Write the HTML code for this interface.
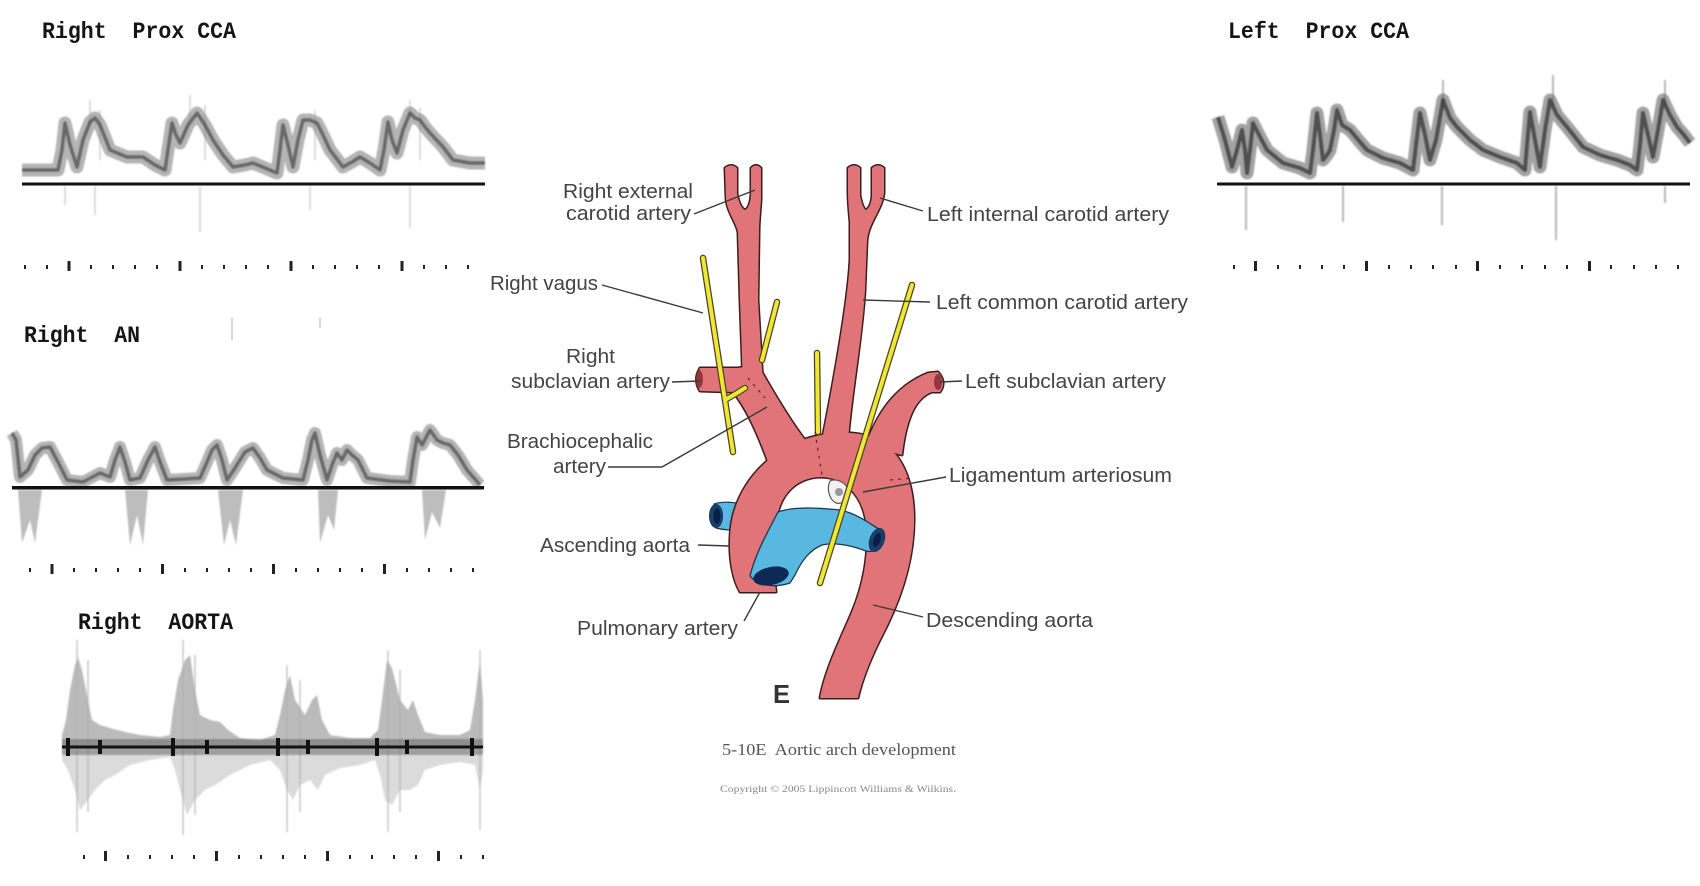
<!DOCTYPE html>
<html><head><meta charset="utf-8"><style>
html,body{margin:0;padding:0;background:#fff;}
svg{display:block;}
text{white-space:pre;}
.mono{font-family:"Liberation Mono",monospace;font-weight:bold;fill:#151515;}
.lab{font-family:"Liberation Sans",Arial,sans-serif;fill:#444;font-size:20px;}
.ld{stroke:#3a3a3a;stroke-width:1.4;fill:none;}
</style></head><body>
<svg width="1700" height="886" viewBox="0 0 1700 886" xmlns="http://www.w3.org/2000/svg" xml:space="preserve">
<defs>
<filter id="bl" x="-5%" y="-20%" width="110%" height="140%"><feGaussianBlur stdDeviation="0.9"/></filter>
</defs>
<rect width="1700" height="886" fill="#fff"/>

<!-- ===== Panel 1: Right Prox CCA ===== -->
<text class="mono" x="42" y="38" font-size="23" textLength="194" lengthAdjust="spacingAndGlyphs" xml:space="preserve">Right  Prox CCA</text>
<g filter="url(#bl)">
<g stroke="#bbb" stroke-width="1.2" opacity="0.8">
<line x1="65" y1="186" x2="65" y2="205"/><line x1="95" y1="186" x2="95" y2="215"/><line x1="200" y1="186" x2="200" y2="232"/><line x1="310" y1="186" x2="310" y2="210"/><line x1="410" y1="186" x2="410" y2="228"/>
<line x1="90" y1="100" x2="90" y2="125"/><line x1="190" y1="95" x2="190" y2="120"/><line x1="410" y1="100" x2="410" y2="115"/>
<line x1="100" y1="110" x2="100" y2="160"/><line x1="205" y1="105" x2="205" y2="160"/><line x1="315" y1="110" x2="315" y2="160"/><line x1="420" y1="108" x2="420" y2="160"/>
</g>
<polyline fill="none" stroke="#777" stroke-width="13" stroke-linejoin="round" opacity="0.55" points="22,170 40,170 58,170 62,150 65,123 70,145 77,167 83,140 90,122 95,118 100,125 110,150 127,157 143,157 155,165 165,170 168,150 172,123 176,135 180,143 188,125 197,113 205,125 213,140 223,155 233,167 245,165 253,163 265,168 277,173 280,150 283,125 288,145 293,167 298,140 303,120 310,120 317,123 323,135 330,150 343,167 352,162 360,157 370,163 380,170 384,150 388,122 392,140 397,153 403,130 410,113 415,118 420,120 425,127 430,133 443,147 453,160 470,163 485,163"/>
<polyline fill="none" stroke="#333" stroke-width="3.5" stroke-linejoin="round" opacity="0.6" points="22,170 40,170 58,170 62,150 65,123 70,145 77,167 83,140 90,122 95,118 100,125 110,150 127,157 143,157 155,165 165,170 168,150 172,123 176,135 180,143 188,125 197,113 205,125 213,140 223,155 233,167 245,165 253,163 265,168 277,173 280,150 283,125 288,145 293,167 298,140 303,120 310,120 317,123 323,135 330,150 343,167 352,162 360,157 370,163 380,170 384,150 388,122 392,140 397,153 403,130 410,113 415,118 420,120 425,127 430,133 443,147 453,160 470,163 485,163"/>
</g>
<rect x="22" y="182.5" width="463" height="3" fill="#111"/>
<g fill="#222">
<rect x="24" y="265" width="2" height="4"/><rect x="46" y="265" width="2" height="4"/><rect x="67.5" y="261" width="3" height="10"/><rect x="90" y="265" width="2" height="4"/><rect x="112" y="265" width="2" height="4"/><rect x="134" y="265" width="2" height="4"/><rect x="156" y="265" width="2" height="4"/><rect x="178.5" y="261" width="3" height="10"/><rect x="201" y="265" width="2" height="4"/><rect x="223" y="265" width="2" height="4"/><rect x="245" y="265" width="2" height="4"/><rect x="267" y="265" width="2" height="4"/><rect x="289.5" y="261" width="3" height="10"/><rect x="312" y="265" width="2" height="4"/><rect x="334" y="265" width="2" height="4"/><rect x="356" y="265" width="2" height="4"/><rect x="378" y="265" width="2" height="4"/><rect x="400.5" y="261" width="3" height="10"/><rect x="423" y="265" width="2" height="4"/><rect x="445" y="265" width="2" height="4"/><rect x="467" y="265" width="2" height="4"/>
</g>

<!-- ===== Panel 2: Right AN ===== -->
<text class="mono" x="24" y="342" font-size="23" textLength="116" lengthAdjust="spacingAndGlyphs" xml:space="preserve">Right  AN</text>
<g stroke="#ccc" stroke-width="1.5"><line x1="232" y1="318" x2="232" y2="340"/><line x1="320" y1="318" x2="320" y2="328"/></g>
<g filter="url(#bl)">
<g fill="#888" opacity="0.55">
<polygon points="18,490 22,543 30,520 35,543 42,490"/>
<polygon points="125,490 130,545 137,515 143,545 148,490"/>
<polygon points="218,490 224,545 230,520 236,545 243,490"/>
<polygon points="318,490 320,543 328,515 334,530 338,490"/>
<polygon points="422,490 425,540 432,512 440,528 446,490"/>
</g>
<polyline fill="none" stroke="#777" stroke-width="12" stroke-linejoin="round" opacity="0.55" points="12,433 16,440 20,477 28,470 35,455 42,448 50,447 58,462 67,480 83,482 100,473 110,477 115,460 120,447 125,462 130,480 140,478 148,460 155,447 160,462 167,480 185,479 200,478 207,462 212,450 217,445 222,460 227,480 235,468 245,452 253,448 260,458 267,470 283,478 303,480 308,460 312,440 315,433 320,455 327,480 332,465 337,453 342,460 347,450 352,455 358,460 367,478 390,481 410,482 413,460 417,437 422,445 430,430 437,440 443,443 450,445 458,455 467,470 480,485"/>
<polyline fill="none" stroke="#333" stroke-width="3.5" stroke-linejoin="round" opacity="0.6" points="12,433 16,440 20,477 28,470 35,455 42,448 50,447 58,462 67,480 83,482 100,473 110,477 115,460 120,447 125,462 130,480 140,478 148,460 155,447 160,462 167,480 185,479 200,478 207,462 212,450 217,445 222,460 227,480 235,468 245,452 253,448 260,458 267,470 283,478 303,480 308,460 312,440 315,433 320,455 327,480 332,465 337,453 342,460 347,450 352,455 358,460 367,478 390,481 410,482 413,460 417,437 422,445 430,430 437,440 443,443 450,445 458,455 467,470 480,485"/>
</g>
<rect x="12" y="486" width="472" height="3.5" fill="#111"/>
<g fill="#222">
<rect x="29" y="568" width="2" height="4"/><rect x="50.5" y="564" width="3" height="10"/><rect x="73" y="568" width="2" height="4"/><rect x="95" y="568" width="2" height="4"/><rect x="117" y="568" width="2" height="4"/><rect x="139" y="568" width="2" height="4"/><rect x="161" y="564" width="3" height="10"/><rect x="184" y="568" width="2" height="4"/><rect x="206" y="568" width="2" height="4"/><rect x="228" y="568" width="2" height="4"/><rect x="250" y="568" width="2" height="4"/><rect x="272" y="564" width="3" height="10"/><rect x="295" y="568" width="2" height="4"/><rect x="317" y="568" width="2" height="4"/><rect x="339" y="568" width="2" height="4"/><rect x="361" y="568" width="2" height="4"/><rect x="383" y="564" width="3" height="10"/><rect x="406" y="568" width="2" height="4"/><rect x="428" y="568" width="2" height="4"/><rect x="450" y="568" width="2" height="4"/><rect x="472" y="568" width="2" height="4"/>
</g>

<!-- ===== Panel 3: Right AORTA ===== -->
<text class="mono" x="78" y="629" font-size="23" textLength="155" lengthAdjust="spacingAndGlyphs" xml:space="preserve">Right  AORTA</text>
<g filter="url(#bl)">
<polygon fill="#999" opacity="0.35" points="62,747 62,760 68,770 75,790 80,810 88,800 95,790 105,780 115,775 130,765 150,760 170,757 175,770 180,790 187,815 195,800 205,790 215,785 230,775 250,765 270,760 280,770 287,790 293,800 300,785 310,780 318,790 325,775 340,768 360,765 375,760 380,775 385,800 392,805 400,790 410,790 418,785 425,770 440,765 460,762 475,765 480,790 483,770 483,747"/>
<polygon fill="#777" opacity="0.5" points="62,747 62,735 66,720 70,690 75,665 78,657 82,670 88,700 92,720 100,725 110,728 125,732 140,735 160,737 170,735 173,710 178,680 185,660 190,655 195,690 200,715 210,720 220,722 228,730 240,738 260,740 275,735 280,715 285,690 290,675 295,700 305,715 312,700 317,695 322,720 330,735 350,738 370,738 378,730 382,700 387,660 392,668 400,700 408,710 413,700 418,715 425,732 440,735 460,735 470,730 475,700 480,660 483,700 483,747"/>
<g stroke="#aaa" stroke-width="1.2" opacity="0.8">
<line x1="77" y1="640" x2="77" y2="832"/><line x1="88" y1="660" x2="88" y2="812"/><line x1="183" y1="640" x2="183" y2="835"/><line x1="195" y1="655" x2="195" y2="815"/><line x1="287" y1="665" x2="287" y2="832"/><line x1="300" y1="680" x2="300" y2="812"/><line x1="388" y1="650" x2="388" y2="832"/><line x1="400" y1="670" x2="400" y2="812"/><line x1="480" y1="650" x2="480" y2="830"/>
</g>
<rect x="62" y="739" width="421" height="16" fill="#555" opacity="0.45"/>
</g>
<rect x="62" y="745.5" width="421" height="3" fill="#111"/>
<g fill="#111">
<rect x="66" y="738" width="4" height="18"/><rect x="98" y="740" width="4" height="14"/><rect x="171" y="738" width="4" height="18"/><rect x="205" y="740" width="4" height="14"/><rect x="276" y="738" width="4" height="18"/><rect x="306" y="740" width="4" height="14"/><rect x="375" y="738" width="4" height="18"/><rect x="405" y="740" width="4" height="14"/><rect x="470" y="738" width="4" height="18"/>
</g>
<g fill="#222">
<rect x="83" y="855" width="2" height="4"/><rect x="104" y="851" width="3" height="10"/><rect x="127" y="855" width="2" height="4"/><rect x="149" y="855" width="2" height="4"/><rect x="171" y="855" width="2" height="4"/><rect x="193" y="855" width="2" height="4"/><rect x="215" y="851" width="3" height="10"/><rect x="238" y="855" width="2" height="4"/><rect x="260" y="855" width="2" height="4"/><rect x="282" y="855" width="2" height="4"/><rect x="304" y="855" width="2" height="4"/><rect x="326" y="851" width="3" height="10"/><rect x="349" y="855" width="2" height="4"/><rect x="371" y="855" width="2" height="4"/><rect x="393" y="855" width="2" height="4"/><rect x="415" y="855" width="2" height="4"/><rect x="437" y="851" width="3" height="10"/><rect x="460" y="855" width="2" height="4"/><rect x="482" y="855" width="2" height="4"/>
</g>

<!-- ===== Panel 4: Left Prox CCA ===== -->
<text class="mono" x="1228" y="38" font-size="23" textLength="181" lengthAdjust="spacingAndGlyphs" xml:space="preserve">Left  Prox CCA</text>
<g filter="url(#bl)">
<g stroke="#888" stroke-width="2" opacity="0.6">
<line x1="1246" y1="186" x2="1246" y2="230"/><line x1="1343" y1="186" x2="1343" y2="222"/><line x1="1442" y1="186" x2="1442" y2="225"/><line x1="1556" y1="186" x2="1556" y2="240"/><line x1="1665" y1="186" x2="1665" y2="203"/>
<line x1="1443" y1="80" x2="1443" y2="110"/><line x1="1553" y1="75" x2="1553" y2="105"/><line x1="1665" y1="80" x2="1665" y2="105"/>
</g>
<polyline fill="none" stroke="#666" stroke-width="13" stroke-linejoin="round" opacity="0.6" points="1218,117 1225,140 1232,167 1237,150 1242,130 1245,150 1247,173 1250,150 1253,123 1260,137 1267,150 1283,163 1300,168 1310,173 1313,150 1317,113 1320,135 1323,160 1327,155 1330,150 1334,130 1337,110 1342,125 1350,130 1360,142 1367,150 1383,158 1400,163 1413,170 1416,145 1420,113 1425,135 1430,160 1436,140 1443,100 1450,118 1457,127 1470,140 1483,150 1500,157 1517,163 1525,170 1527,145 1530,112 1535,140 1540,167 1545,130 1550,100 1557,115 1567,127 1575,137 1583,147 1600,155 1617,160 1630,165 1637,170 1640,145 1643,113 1648,135 1653,157 1658,130 1663,100 1670,115 1677,127 1684,135 1690,143"/>
<polyline fill="none" stroke="#222" stroke-width="4" stroke-linejoin="round" opacity="0.65" points="1218,117 1225,140 1232,167 1237,150 1242,130 1245,150 1247,173 1250,150 1253,123 1260,137 1267,150 1283,163 1300,168 1310,173 1313,150 1317,113 1320,135 1323,160 1327,155 1330,150 1334,130 1337,110 1342,125 1350,130 1360,142 1367,150 1383,158 1400,163 1413,170 1416,145 1420,113 1425,135 1430,160 1436,140 1443,100 1450,118 1457,127 1470,140 1483,150 1500,157 1517,163 1525,170 1527,145 1530,112 1535,140 1540,167 1545,130 1550,100 1557,115 1567,127 1575,137 1583,147 1600,155 1617,160 1630,165 1637,170 1640,145 1643,113 1648,135 1653,157 1658,130 1663,100 1670,115 1677,127 1684,135 1690,143"/>
</g>
<rect x="1217" y="182.5" width="473" height="3" fill="#111"/>
<g fill="#222">
<rect x="1233" y="265" width="2" height="4"/><rect x="1254" y="261" width="3" height="10"/><rect x="1277" y="265" width="2" height="4"/><rect x="1299" y="265" width="2" height="4"/><rect x="1321" y="265" width="2" height="4"/><rect x="1343" y="265" width="2" height="4"/><rect x="1365" y="261" width="3" height="10"/><rect x="1388" y="265" width="2" height="4"/><rect x="1410" y="265" width="2" height="4"/><rect x="1432" y="265" width="2" height="4"/><rect x="1455" y="265" width="2" height="4"/><rect x="1476" y="261" width="3" height="10"/><rect x="1499" y="265" width="2" height="4"/><rect x="1521" y="265" width="2" height="4"/><rect x="1544" y="265" width="2" height="4"/><rect x="1566" y="265" width="2" height="4"/><rect x="1588" y="261" width="3" height="10"/><rect x="1610" y="265" width="2" height="4"/><rect x="1633" y="265" width="2" height="4"/><rect x="1655" y="265" width="2" height="4"/><rect x="1677" y="265" width="2" height="4"/>
</g>

<!-- ===== Central anatomy ===== -->
<path d="M714,504 C722,501 735,502 745,505 L746,530 C736,531 724,530 716,528 Z" fill="#58b8e0" stroke="#1c3550" stroke-width="1.2"/>
<ellipse cx="716" cy="516" rx="6.5" ry="11.5" fill="#174070" stroke="#1c3550" stroke-width="1"/>
<ellipse cx="717" cy="516" rx="3.5" ry="8" fill="#0a1f3f"/>

<g fill="#3a1e1e" stroke="#3a1e1e" stroke-width="3" stroke-linejoin="round">
<path d="M740,592 C733,580 729,560 730,538 C731,500 752,468 785,448 C810,434 845,428 872,437 C898,447 913,475 914,515 C915,560 900,600 885,630 C872,655 862,680 858,698 L820,698 C825,670 840,640 852,612 C862,588 870,555 866,522 C862,495 845,478 822,477 C800,477 784,490 778,512 C773,535 773,565 776,592 Z"/>
<path d="M733,392 L700,391 Q693,380 700,368 L738,368 Q750,365 762,372 C775,395 790,420 805,440 L768,462 C760,440 748,410 733,392 Z"/>
<path d="M743,385 L740,300 L738,232 C736,222 727,212 726,198 L725,168 Q731,163 737,168 L737,194 Q740,208 745,210 Q750,208 751,194 L751,168 Q756,163 761,168 L761,200 C760,214 759,222 759,232 L758,300 L763,385 Z"/>
<path d="M822,440 C834,380 848,300 850,260 L850,222 C849,212 848,200 848,190 L848,168 Q854,163 860,168 L860,196 Q863,209 866,210 Q871,207 872,196 L872,168 Q878,163 884,168 L884,193 C882,210 869,222 867,240 L865,290 C862,340 852,390 848,440 Z"/>
<path d="M866,445 C878,410 898,385 928,373 L938,372 Q947,382 940,392 L932,392 C915,398 906,420 902,455 Z"/>
</g>
<g fill="#e07478">
<path d="M740,592 C733,580 729,560 730,538 C731,500 752,468 785,448 C810,434 845,428 872,437 C898,447 913,475 914,515 C915,560 900,600 885,630 C872,655 862,680 858,698 L820,698 C825,670 840,640 852,612 C862,588 870,555 866,522 C862,495 845,478 822,477 C800,477 784,490 778,512 C773,535 773,565 776,592 Z"/>
<path d="M733,392 L700,391 Q693,380 700,368 L738,368 Q750,365 762,372 C775,395 790,420 805,440 L768,462 C760,440 748,410 733,392 Z"/>
<path d="M743,385 L740,300 L738,232 C736,222 727,212 726,198 L725,168 Q731,163 737,168 L737,194 Q740,208 745,210 Q750,208 751,194 L751,168 Q756,163 761,168 L761,200 C760,214 759,222 759,232 L758,300 L763,385 Z"/>
<path d="M822,440 C834,380 848,300 850,260 L850,222 C849,212 848,200 848,190 L848,168 Q854,163 860,168 L860,196 Q863,209 866,210 Q871,207 872,196 L872,168 Q878,163 884,168 L884,193 C882,210 869,222 867,240 L865,290 C862,340 852,390 848,440 Z"/>
<path d="M866,445 C878,410 898,385 928,373 L938,372 Q947,382 940,392 L932,392 C915,398 906,420 902,455 Z"/>
</g>
<ellipse cx="938" cy="382" rx="4" ry="8" fill="#7a2a2e" opacity="0.8"/>
<ellipse cx="699" cy="379" rx="4" ry="9" fill="#7a2a2e" opacity="0.8"/>
<g stroke="#5a2a2a" stroke-width="1.2" stroke-dasharray="3,5" fill="none">
<line x1="815" y1="432" x2="822" y2="475"/>
<line x1="748" y1="378" x2="765" y2="398"/>
<line x1="890" y1="480" x2="913" y2="478"/>
</g>

<path d="M830,481 C836,478 846,482 848,490 C850,498 842,505 836,503 C830,500 826,490 830,481 Z" fill="#f2f2f2" stroke="#555" stroke-width="1.2"/>
<circle cx="839" cy="492" r="4" fill="#999"/>

<path d="M778,512 C795,506 820,508 840,510 C855,513 868,522 880,530 L884,538 C882,548 875,553 866,551 C850,545 835,542 822,545 C810,550 802,560 795,575 L790,583 C775,588 758,586 750,576 C755,555 766,535 778,512 Z" fill="#58b8e0" stroke="#1c3550" stroke-width="1.3"/>
<ellipse cx="771" cy="576" rx="18" ry="9" transform="rotate(-12 771 576)" fill="#0d2a55"/>
<ellipse cx="877" cy="540" rx="7" ry="12" transform="rotate(20 877 540)" fill="#174070" stroke="#1c3550" stroke-width="1"/>
<ellipse cx="877" cy="540" rx="3.5" ry="7.5" transform="rotate(20 877 540)" fill="#0a1f3f"/>

<g stroke="#4a4420" stroke-width="6.5" stroke-linecap="round" fill="none">
<line x1="703" y1="258" x2="733" y2="452"/>
<polyline points="725,400 737,393 745,388"/>
<line x1="777" y1="302" x2="762" y2="360"/>
<line x1="817" y1="353" x2="818" y2="432"/>
<line x1="912" y1="285" x2="820" y2="583"/>
</g>
<g stroke="#f0e636" stroke-width="4" stroke-linecap="round" fill="none">
<line x1="703" y1="258" x2="733" y2="452"/>
<polyline points="725,400 737,393 745,388"/>
<line x1="777" y1="302" x2="762" y2="360"/>
<line x1="817" y1="353" x2="818" y2="432"/>
<line x1="912" y1="285" x2="820" y2="583"/>
</g>

<g class="ld">
<line x1="694" y1="214" x2="755" y2="190"/>
<line x1="602" y1="285" x2="703" y2="313"/>
<line x1="672" y1="382" x2="700" y2="381"/>
<polyline points="608,467 662,467 767,407"/>
<line x1="698" y1="545" x2="730" y2="546"/>
<line x1="760" y1="592" x2="744" y2="621"/>
<line x1="880" y1="198" x2="923" y2="211"/>
<line x1="863" y1="300" x2="930" y2="302"/>
<line x1="940" y1="382" x2="962" y2="381"/>
<line x1="863" y1="492" x2="946" y2="477"/>
<line x1="873" y1="605" x2="923" y2="617"/>
</g>

<text class="lab" x="563" y="198" textLength="130" lengthAdjust="spacingAndGlyphs">Right external</text>
<text class="lab" x="566" y="220" textLength="125" lengthAdjust="spacingAndGlyphs">carotid artery</text>
<text class="lab" x="490" y="290" textLength="108" lengthAdjust="spacingAndGlyphs">Right vagus</text>
<text class="lab" x="566" y="363" textLength="49" lengthAdjust="spacingAndGlyphs">Right</text>
<text class="lab" x="511" y="388" textLength="159" lengthAdjust="spacingAndGlyphs">subclavian artery</text>
<text class="lab" x="507" y="448" textLength="146" lengthAdjust="spacingAndGlyphs">Brachiocephalic</text>
<text class="lab" x="553" y="473" textLength="53" lengthAdjust="spacingAndGlyphs">artery</text>
<text class="lab" x="540" y="552" textLength="150" lengthAdjust="spacingAndGlyphs">Ascending aorta</text>
<text class="lab" x="577" y="635" textLength="161" lengthAdjust="spacingAndGlyphs">Pulmonary artery</text>
<text class="lab" x="927" y="221" textLength="242" lengthAdjust="spacingAndGlyphs">Left internal carotid artery</text>
<text class="lab" x="936" y="309" textLength="252" lengthAdjust="spacingAndGlyphs">Left common carotid artery</text>
<text class="lab" x="965" y="388" textLength="201" lengthAdjust="spacingAndGlyphs">Left subclavian artery</text>
<text class="lab" x="949" y="482" textLength="223" lengthAdjust="spacingAndGlyphs">Ligamentum arteriosum</text>
<text class="lab" x="926" y="627" textLength="167" lengthAdjust="spacingAndGlyphs">Descending aorta</text>
<text x="773" y="703" font-family="Liberation Sans,Arial,sans-serif" font-weight="bold" font-size="26" fill="#333" textLength="17" lengthAdjust="spacingAndGlyphs">E</text>
<text x="722" y="755" font-family="Liberation Serif,serif" font-size="17" fill="#555" textLength="234" lengthAdjust="spacingAndGlyphs" xml:space="preserve">5-10E  Aortic arch development</text>
<text x="720" y="792" font-family="Liberation Serif,serif" font-size="9.5" fill="#888" textLength="236" lengthAdjust="spacingAndGlyphs">Copyright © 2005 Lippincott Williams &amp; Wilkins.</text>
</svg>
</body></html>
